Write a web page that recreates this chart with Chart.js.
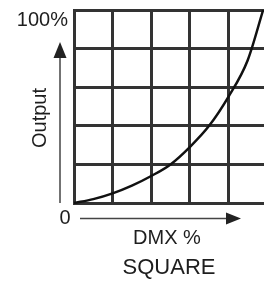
<!DOCTYPE html>
<html>
<head>
<meta charset="utf-8">
<script src="https://cdn.jsdelivr.net/npm/chart.js@4"></script>
<style>
  html, body { margin: 0; padding: 0; background: #fff; overflow: hidden; }
  #wrap { width: 264px; height: 283px; overflow: hidden; }
</style>
</head>
<body>
<div id="wrap"><canvas id="curveChart" width="268" height="283"></canvas></div>
<script>
// DMX input (%) vs output (%) - square curve
const dmxValues = [0, 10, 20, 30, 40, 50, 60, 70, 80, 90, 98];
const outputValues = [0, 2, 5, 9, 14, 20, 29, 40, 55, 74, 100];

const gridSteps = [0, 20, 40, 60, 80, 100];
const topLabel = "100%";
const zeroLabel = "0";
const yTitle = "Output";
const xTitle = "DMX %";
const curveName = "SQUARE";

const textColor = "#1e1e1e";
const gridColor = "#333";

// arrows + the loose labels around the grid
const decorations = {
    id: "decorations",
    afterDraw(chart) {
        const { ctx, chartArea } = chart;
        const { left, top, bottom } = chartArea;
        ctx.save();

        // y arrow
        const ax = left - 14;
        ctx.strokeStyle = "#444";
        ctx.fillStyle = "#222";
        ctx.lineWidth = 1.5;
        ctx.beginPath();
        ctx.moveTo(ax, bottom);
        ctx.lineTo(ax, top + 46);
        ctx.stroke();
        ctx.beginPath();
        ctx.moveTo(ax, top + 32);
        ctx.lineTo(ax - 6.5, top + 48);
        ctx.lineTo(ax + 6.5, top + 48);
        ctx.closePath();
        ctx.fill();

        // x arrow
        const ay = bottom + 15.5;
        ctx.beginPath();
        ctx.moveTo(left + 6, ay);
        ctx.lineTo(left + 155, ay);
        ctx.stroke();
        ctx.beginPath();
        ctx.moveTo(left + 167, ay);
        ctx.lineTo(left + 152, ay - 6);
        ctx.lineTo(left + 152, ay + 6);
        ctx.closePath();
        ctx.fill();

        ctx.fillStyle = textColor;
        ctx.font = "20px 'Liberation Sans', Arial, sans-serif";
        ctx.textBaseline = "middle";

        ctx.textAlign = "right";
        ctx.fillText(topLabel, left - 6, top + 10);

        ctx.textAlign = "center";
        ctx.fillText(zeroLabel, left - 9, bottom + 15);
        ctx.fillText(xTitle, left + 93, bottom + 35);

        ctx.font = "22px 'Liberation Sans', Arial, sans-serif";
        ctx.fillText(curveName, left + 95, bottom + 65);

        ctx.font = "20px 'Liberation Sans', Arial, sans-serif";
        ctx.translate(left - 34, top + 108);
        ctx.rotate(-Math.PI / 2);
        ctx.fillText(yTitle, 0, 0);

        ctx.restore();
    }
};

const ctx = document.getElementById("curveChart").getContext("2d");
new Chart(ctx, {
    type: "line",
    data: {
        datasets: [{
            label: curveName,
            data: dmxValues.map((x, i) => ({ x: x, y: outputValues[i] })),
            borderColor: "#111",
            borderWidth: 2.5,
            pointRadius: 0,
            fill: false,
            cubicInterpolationMode: "monotone",
            clip: false
        }]
    },
    options: {
        responsive: false,
        animation: false,
        layout: {
            padding: { left: 74, top: 10, right: 1, bottom: 80 }
        },
        plugins: {
            legend: { display: false },
            tooltip: { enabled: false }
        },
        scales: {
            x: {
                type: "linear",
                min: gridSteps[0],
                max: gridSteps[gridSteps.length - 1],
                afterBuildTicks: axis => { axis.ticks = gridSteps.map(v => ({ value: v })); },
                ticks: { display: false },
                grid: { color: gridColor, lineWidth: 3, drawTicks: false },
                border: { color: gridColor, width: 3 }
            },
            y: {
                min: gridSteps[0],
                max: gridSteps[gridSteps.length - 1],
                afterBuildTicks: axis => { axis.ticks = gridSteps.map(v => ({ value: v })); },
                ticks: { display: false },
                grid: { color: gridColor, lineWidth: 3, drawTicks: false },
                border: { color: gridColor, width: 3 }
            }
        }
    },
    plugins: [decorations]
});
</script>
</body>
</html>
